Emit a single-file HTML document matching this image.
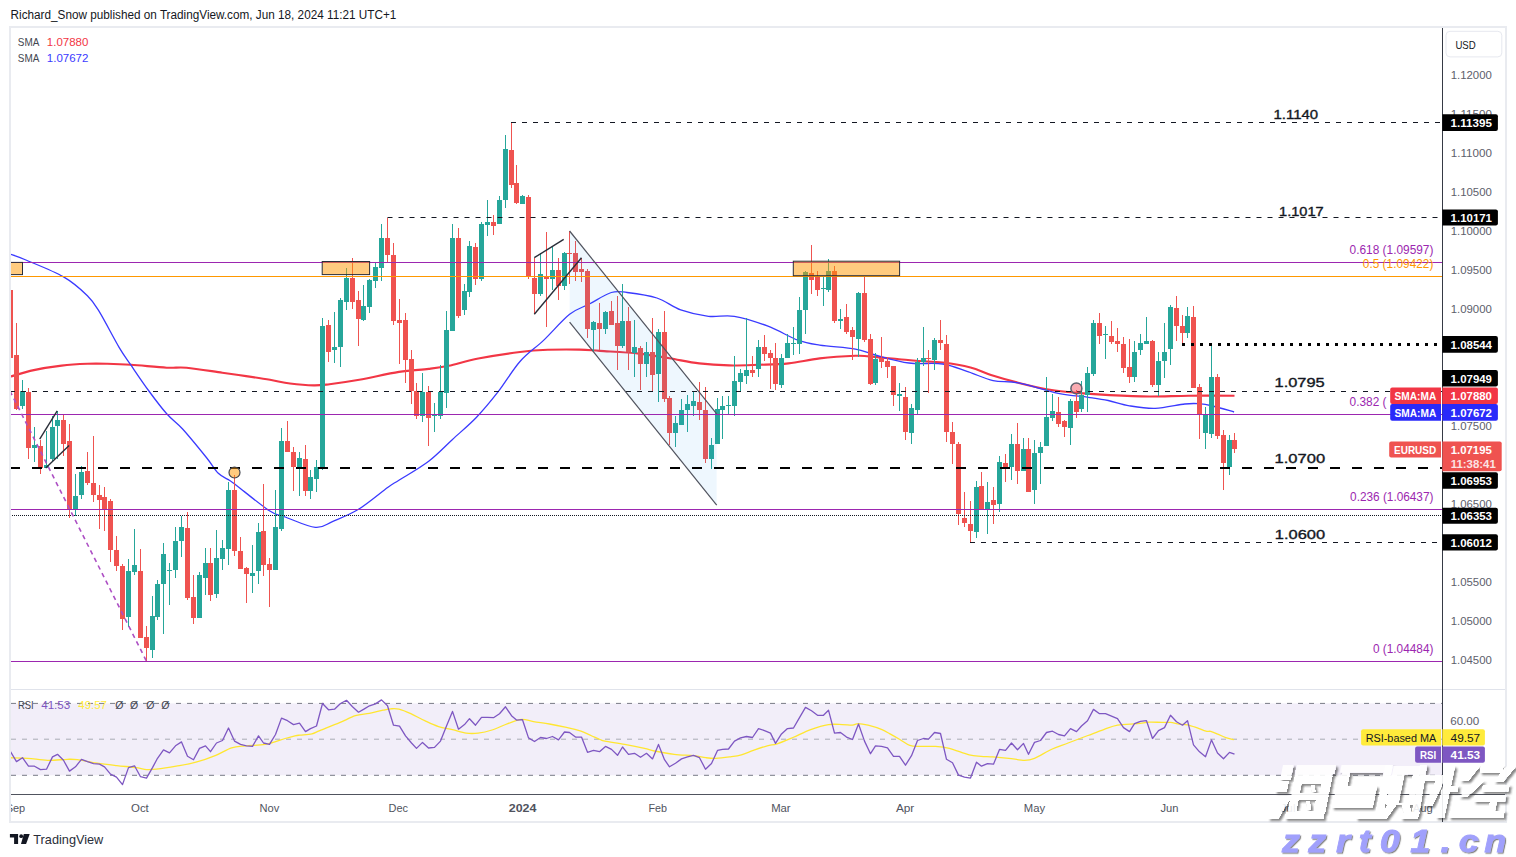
<!DOCTYPE html><html><head><meta charset="utf-8"><title>EURUSD chart</title>
<style>html,body{margin:0;padding:0;background:#fff;}body{width:1516px;height:857px;overflow:hidden;position:relative;font-family:"Liberation Sans", sans-serif;}svg{position:absolute;left:0;top:0;}text{font-family:"Liberation Sans", sans-serif;}</style></head><body>
<svg width="1516" height="857" viewBox="0 0 1516 857">
<defs><clipPath id="cm"><rect x="11" y="28" width="1431" height="661"/></clipPath>
<clipPath id="cr"><rect x="11" y="690" width="1431" height="104"/></clipPath></defs>
<text x="10.6" y="18.9" font-size="12" fill="#131722" textLength="385.7" lengthAdjust="spacingAndGlyphs">Richard_Snow published on TradingView.com, Jun 18, 2024 11:21 UTC+1</text>
<rect x="10" y="27" width="1496" height="795" fill="#fff" stroke="#e9ebf0" stroke-width="2"/>
<g clip-path="url(#cm)">
<path d="M10,376.7 C13.97,375.6 25.2,371.95 33.8,370.1 C42.4,368.25 52.67,366.65 61.6,365.6 C70.53,364.55 79.8,364.1 87.4,363.8 C95,363.5 99.93,363.63 107.2,363.8 C114.47,363.97 121.08,364.15 131,364.8 C140.92,365.45 157.43,367.22 166.7,367.7 C175.97,368.18 177.33,366.87 186.6,367.7 C195.87,368.53 212.38,371.3 222.3,372.7 C232.22,374.1 238.15,374.92 246.1,376.1 C254.05,377.28 262.68,378.57 270,379.8 C277.32,381.03 282.72,382.57 290,383.5 C297.28,384.43 307.12,385.28 313.7,385.4 C320.28,385.52 321.9,385.13 329.5,384.2 C337.1,383.27 347.72,381.85 359.3,379.8 C370.88,377.75 387.43,373.72 399,371.9 C410.57,370.08 420.43,369.92 428.7,368.9 C436.97,367.88 440.33,367.53 448.6,365.8 C456.87,364.07 466.4,360.8 478.3,358.5 C490.2,356.2 508.42,353.45 520,352 C531.58,350.55 537.88,350.2 547.8,349.8 C557.72,349.4 570.8,349.42 579.5,349.6 C588.2,349.78 590.08,350.23 600,350.9 C609.92,351.57 627.43,352.37 639,353.6 C650.57,354.83 659.37,356.67 669.4,358.3 C679.43,359.93 689.27,362.22 699.2,363.4 C709.13,364.58 719.08,365.17 729,365.4 C738.92,365.63 748.78,365.13 758.7,364.8 C768.62,364.47 778.33,364.47 788.5,363.4 C798.67,362.33 808.55,359.67 819.7,358.4 C830.85,357.13 847.13,356.13 855.4,355.8 C863.67,355.47 862.03,355.83 869.3,356.4 C876.57,356.97 890.73,358.43 899,359.2 C907.27,359.97 911.62,360.45 918.9,361 C926.18,361.55 934.1,361.42 942.7,362.5 C951.3,363.58 962.45,365.42 970.5,367.5 C978.55,369.58 982.93,372.43 991,375 C999.07,377.57 1009.07,380.43 1018.9,382.9 C1028.73,385.37 1039.85,388.1 1050,389.8 C1060.15,391.5 1069.88,392.22 1079.8,393.1 C1089.72,393.98 1097.93,394.53 1109.5,395.1 C1121.07,395.67 1135.97,396.4 1149.2,396.5 C1162.43,396.6 1174.68,395.83 1188.9,395.7 C1203.12,395.57 1226.9,395.7 1234.5,395.7" fill="none" stroke="#f23645" stroke-width="2.1" stroke-linejoin="round"/>
<path d="M10,254 C12.65,255 16.97,256.18 25.9,260 C34.83,263.82 53.35,270.95 63.6,276.9 C73.85,282.85 81.45,289.92 87.4,295.7 C93.35,301.48 94.02,303 99.3,311.6 C104.58,320.2 113.82,338.37 119.1,347.3 C124.38,356.23 126.03,357.92 131,365.2 C135.97,372.48 142.95,382.9 148.9,391 C154.85,399.1 161.08,407.47 166.7,413.8 C172.32,420.13 175.98,421.72 182.6,429 C189.22,436.28 200.45,450.12 206.4,457.5 C212.35,464.88 214.42,469.47 218.3,473.3 C222.18,477.13 226.72,478.52 229.7,480.5 C232.68,482.48 229.58,480.15 236.2,485.2 C242.82,490.25 261.23,505.5 269.4,510.8 C277.57,516.1 277.53,514.23 285.2,517 C292.87,519.77 307.45,526.68 315.4,527.4 C323.35,528.12 325.72,524.32 332.9,521.3 C340.08,518.28 349.32,514.98 358.5,509.3 C367.68,503.62 381.2,492.08 388,487.2 C394.8,482.32 392.52,484.33 399.3,480 C406.08,475.67 419.83,467.97 428.7,461.2 C437.57,454.43 444.57,446.68 452.5,439.4 C460.43,432.12 468.68,425.45 476.3,417.5 C483.92,409.55 490.92,401.03 498.2,391.7 C505.48,382.37 512.4,370.1 520,361.5 C527.6,352.9 535.53,347.97 543.8,340.1 C552.07,332.23 562,320.32 569.6,314.3 C577.2,308.28 582.45,307.63 589.4,304 C596.35,300.37 605.02,294.42 611.3,292.5 C617.58,290.58 619.5,291.58 627.1,292.5 C634.7,293.42 647.97,295.1 656.9,298 C665.83,300.9 672.1,306.85 680.7,309.9 C689.3,312.95 699.57,315.23 708.5,316.3 C717.43,317.37 724.38,314.65 734.3,316.3 C744.22,317.95 757.42,322.23 768,326.2 C778.58,330.17 789.18,336.95 797.8,340.1 C806.42,343.25 810.1,343.6 819.7,345.1 C829.3,346.6 846.15,347.45 855.4,349.1 C864.65,350.75 866.27,352.68 875.2,355 C884.13,357.32 897.75,361.5 909,363 C920.25,364.5 932.78,362.52 942.7,364 C952.62,365.48 960.1,369.13 968.5,371.9 C976.9,374.67 984.77,378.77 993.1,380.6 C1001.43,382.43 1007.65,380.78 1018.5,382.9 C1029.35,385.02 1046.57,390.9 1058.2,393.3 C1069.83,395.7 1079.97,396.1 1088.3,397.3 C1096.63,398.5 1101.35,399.08 1108.2,400.5 C1115.05,401.92 1121.57,404.48 1129.4,405.8 C1137.23,407.12 1145.95,408.7 1155.2,408.4 C1164.45,408.1 1177.63,404.78 1184.9,404 C1192.17,403.22 1194.17,403.37 1198.8,403.7 C1203.43,404.03 1206.82,404.62 1212.7,406 C1218.58,407.38 1230.53,411 1234.1,412" fill="none" stroke="#3a3aff" stroke-width="1.3" stroke-linejoin="round"/>
<g shape-rendering="crispEdges">
<rect x="10" y="278" width="1" height="82" fill="#ef5350"/>
<rect x="8" y="290" width="5" height="68" fill="#ef5350"/>
<rect x="16" y="323" width="1" height="87" fill="#ef5350"/>
<rect x="14" y="355" width="5" height="54" fill="#ef5350"/>
<rect x="22" y="380" width="1" height="29" fill="#26a69a"/>
<rect x="20" y="391" width="5" height="15" fill="#26a69a"/>
<rect x="28" y="388" width="1" height="71" fill="#ef5350"/>
<rect x="26" y="392" width="5" height="56" fill="#ef5350"/>
<rect x="34" y="427" width="1" height="35" fill="#26a69a"/>
<rect x="32" y="445" width="5" height="3" fill="#26a69a"/>
<rect x="40" y="440" width="1" height="34" fill="#ef5350"/>
<rect x="38" y="446" width="5" height="22" fill="#ef5350"/>
<rect x="46" y="431" width="1" height="37" fill="#26a69a"/>
<rect x="44" y="465" width="5" height="3" fill="#26a69a"/>
<rect x="52" y="416" width="1" height="46" fill="#26a69a"/>
<rect x="50" y="427" width="5" height="32" fill="#26a69a"/>
<rect x="57" y="411" width="1" height="48" fill="#26a69a"/>
<rect x="55" y="420" width="5" height="6" fill="#26a69a"/>
<rect x="63" y="415" width="1" height="41" fill="#ef5350"/>
<rect x="61" y="420" width="5" height="24" fill="#ef5350"/>
<rect x="69" y="424" width="1" height="94" fill="#ef5350"/>
<rect x="67" y="441" width="5" height="69" fill="#ef5350"/>
<rect x="75" y="474" width="1" height="42" fill="#26a69a"/>
<rect x="73" y="496" width="5" height="14" fill="#26a69a"/>
<rect x="81" y="466" width="1" height="33" fill="#26a69a"/>
<rect x="79" y="472" width="5" height="23" fill="#26a69a"/>
<rect x="87" y="452" width="1" height="33" fill="#ef5350"/>
<rect x="85" y="471" width="5" height="12" fill="#ef5350"/>
<rect x="93" y="436" width="1" height="66" fill="#ef5350"/>
<rect x="91" y="483" width="5" height="12" fill="#ef5350"/>
<rect x="99" y="485" width="1" height="44" fill="#ef5350"/>
<rect x="97" y="495" width="5" height="5" fill="#ef5350"/>
<rect x="104" y="487" width="1" height="44" fill="#ef5350"/>
<rect x="102" y="497" width="5" height="12" fill="#ef5350"/>
<rect x="110" y="499" width="1" height="63" fill="#ef5350"/>
<rect x="108" y="501" width="5" height="49" fill="#ef5350"/>
<rect x="116" y="536" width="1" height="35" fill="#ef5350"/>
<rect x="114" y="550" width="5" height="16" fill="#ef5350"/>
<rect x="122" y="564" width="1" height="66" fill="#ef5350"/>
<rect x="120" y="566" width="5" height="53" fill="#ef5350"/>
<rect x="128" y="559" width="1" height="68" fill="#26a69a"/>
<rect x="126" y="571" width="5" height="46" fill="#26a69a"/>
<rect x="134" y="529" width="1" height="46" fill="#26a69a"/>
<rect x="132" y="565" width="5" height="7" fill="#26a69a"/>
<rect x="140" y="549" width="1" height="89" fill="#ef5350"/>
<rect x="138" y="571" width="5" height="67" fill="#ef5350"/>
<rect x="146" y="626" width="1" height="35" fill="#ef5350"/>
<rect x="144" y="637" width="5" height="11" fill="#ef5350"/>
<rect x="152" y="596" width="1" height="62" fill="#26a69a"/>
<rect x="150" y="616" width="5" height="34" fill="#26a69a"/>
<rect x="157" y="580" width="1" height="40" fill="#26a69a"/>
<rect x="155" y="584" width="5" height="33" fill="#26a69a"/>
<rect x="163" y="543" width="1" height="91" fill="#26a69a"/>
<rect x="161" y="554" width="5" height="30" fill="#26a69a"/>
<rect x="169" y="563" width="1" height="42" fill="#26a69a"/>
<rect x="167" y="570" width="5" height="1" fill="#26a69a"/>
<rect x="175" y="527" width="1" height="51" fill="#26a69a"/>
<rect x="173" y="541" width="5" height="29" fill="#26a69a"/>
<rect x="181" y="516" width="1" height="41" fill="#26a69a"/>
<rect x="179" y="527" width="5" height="14" fill="#26a69a"/>
<rect x="187" y="512" width="1" height="88" fill="#ef5350"/>
<rect x="185" y="528" width="5" height="70" fill="#ef5350"/>
<rect x="193" y="575" width="1" height="49" fill="#ef5350"/>
<rect x="191" y="597" width="5" height="21" fill="#ef5350"/>
<rect x="199" y="572" width="1" height="46" fill="#26a69a"/>
<rect x="197" y="575" width="5" height="43" fill="#26a69a"/>
<rect x="205" y="548" width="1" height="47" fill="#26a69a"/>
<rect x="203" y="563" width="5" height="15" fill="#26a69a"/>
<rect x="210" y="548" width="1" height="53" fill="#ef5350"/>
<rect x="208" y="563" width="5" height="32" fill="#ef5350"/>
<rect x="216" y="530" width="1" height="68" fill="#26a69a"/>
<rect x="214" y="558" width="5" height="36" fill="#26a69a"/>
<rect x="222" y="540" width="1" height="30" fill="#26a69a"/>
<rect x="220" y="548" width="5" height="11" fill="#26a69a"/>
<rect x="228" y="482" width="1" height="83" fill="#26a69a"/>
<rect x="226" y="490" width="5" height="59" fill="#26a69a"/>
<rect x="234" y="475" width="1" height="81" fill="#ef5350"/>
<rect x="232" y="490" width="5" height="61" fill="#ef5350"/>
<rect x="240" y="537" width="1" height="32" fill="#ef5350"/>
<rect x="238" y="551" width="5" height="18" fill="#ef5350"/>
<rect x="246" y="567" width="1" height="36" fill="#ef5350"/>
<rect x="244" y="568" width="5" height="6" fill="#ef5350"/>
<rect x="252" y="545" width="1" height="48" fill="#26a69a"/>
<rect x="250" y="573" width="5" height="3" fill="#26a69a"/>
<rect x="258" y="523" width="1" height="61" fill="#26a69a"/>
<rect x="256" y="532" width="5" height="39" fill="#26a69a"/>
<rect x="263" y="484" width="1" height="92" fill="#ef5350"/>
<rect x="261" y="531" width="5" height="34" fill="#ef5350"/>
<rect x="269" y="558" width="1" height="49" fill="#ef5350"/>
<rect x="267" y="564" width="5" height="6" fill="#ef5350"/>
<rect x="275" y="490" width="1" height="80" fill="#26a69a"/>
<rect x="273" y="527" width="5" height="43" fill="#26a69a"/>
<rect x="281" y="428" width="1" height="103" fill="#26a69a"/>
<rect x="279" y="441" width="5" height="88" fill="#26a69a"/>
<rect x="287" y="421" width="1" height="31" fill="#ef5350"/>
<rect x="285" y="441" width="5" height="11" fill="#ef5350"/>
<rect x="293" y="447" width="1" height="44" fill="#ef5350"/>
<rect x="291" y="452" width="5" height="15" fill="#ef5350"/>
<rect x="299" y="452" width="1" height="44" fill="#26a69a"/>
<rect x="297" y="458" width="5" height="10" fill="#26a69a"/>
<rect x="305" y="445" width="1" height="51" fill="#ef5350"/>
<rect x="303" y="459" width="5" height="32" fill="#ef5350"/>
<rect x="310" y="470" width="1" height="29" fill="#26a69a"/>
<rect x="308" y="477" width="5" height="14" fill="#26a69a"/>
<rect x="316" y="460" width="1" height="32" fill="#26a69a"/>
<rect x="314" y="467" width="5" height="12" fill="#26a69a"/>
<rect x="322" y="318" width="1" height="152" fill="#26a69a"/>
<rect x="320" y="326" width="5" height="142" fill="#26a69a"/>
<rect x="328" y="320" width="1" height="42" fill="#ef5350"/>
<rect x="326" y="325" width="5" height="27" fill="#ef5350"/>
<rect x="334" y="312" width="1" height="51" fill="#26a69a"/>
<rect x="332" y="347" width="5" height="3" fill="#26a69a"/>
<rect x="340" y="298" width="1" height="69" fill="#26a69a"/>
<rect x="338" y="300" width="5" height="47" fill="#26a69a"/>
<rect x="346" y="268" width="1" height="42" fill="#26a69a"/>
<rect x="344" y="278" width="5" height="24" fill="#26a69a"/>
<rect x="352" y="258" width="1" height="51" fill="#ef5350"/>
<rect x="350" y="278" width="5" height="24" fill="#ef5350"/>
<rect x="358" y="291" width="1" height="55" fill="#ef5350"/>
<rect x="356" y="300" width="5" height="19" fill="#ef5350"/>
<rect x="363" y="285" width="1" height="36" fill="#26a69a"/>
<rect x="361" y="306" width="5" height="14" fill="#26a69a"/>
<rect x="369" y="279" width="1" height="34" fill="#26a69a"/>
<rect x="367" y="280" width="5" height="27" fill="#26a69a"/>
<rect x="375" y="262" width="1" height="26" fill="#26a69a"/>
<rect x="373" y="267" width="5" height="14" fill="#26a69a"/>
<rect x="381" y="224" width="1" height="57" fill="#26a69a"/>
<rect x="379" y="238" width="5" height="30" fill="#26a69a"/>
<rect x="387" y="218" width="1" height="44" fill="#ef5350"/>
<rect x="385" y="238" width="5" height="17" fill="#ef5350"/>
<rect x="393" y="243" width="1" height="82" fill="#ef5350"/>
<rect x="391" y="255" width="5" height="66" fill="#ef5350"/>
<rect x="399" y="299" width="1" height="65" fill="#ef5350"/>
<rect x="397" y="320" width="5" height="3" fill="#ef5350"/>
<rect x="405" y="313" width="1" height="70" fill="#ef5350"/>
<rect x="403" y="320" width="5" height="40" fill="#ef5350"/>
<rect x="411" y="350" width="1" height="54" fill="#ef5350"/>
<rect x="409" y="359" width="5" height="32" fill="#ef5350"/>
<rect x="416" y="383" width="1" height="36" fill="#ef5350"/>
<rect x="414" y="391" width="5" height="25" fill="#ef5350"/>
<rect x="422" y="373" width="1" height="49" fill="#26a69a"/>
<rect x="420" y="392" width="5" height="24" fill="#26a69a"/>
<rect x="428" y="386" width="1" height="60" fill="#ef5350"/>
<rect x="426" y="392" width="5" height="26" fill="#ef5350"/>
<rect x="434" y="403" width="1" height="29" fill="#26a69a"/>
<rect x="432" y="415" width="5" height="1" fill="#26a69a"/>
<rect x="440" y="365" width="1" height="54" fill="#26a69a"/>
<rect x="438" y="392" width="5" height="24" fill="#26a69a"/>
<rect x="446" y="311" width="1" height="97" fill="#26a69a"/>
<rect x="444" y="330" width="5" height="63" fill="#26a69a"/>
<rect x="452" y="224" width="1" height="107" fill="#26a69a"/>
<rect x="450" y="238" width="5" height="93" fill="#26a69a"/>
<rect x="458" y="228" width="1" height="90" fill="#ef5350"/>
<rect x="456" y="238" width="5" height="78" fill="#ef5350"/>
<rect x="464" y="284" width="1" height="31" fill="#26a69a"/>
<rect x="462" y="291" width="5" height="19" fill="#26a69a"/>
<rect x="469" y="241" width="1" height="56" fill="#26a69a"/>
<rect x="467" y="246" width="5" height="46" fill="#26a69a"/>
<rect x="475" y="243" width="1" height="42" fill="#ef5350"/>
<rect x="473" y="247" width="5" height="32" fill="#ef5350"/>
<rect x="481" y="222" width="1" height="59" fill="#26a69a"/>
<rect x="479" y="224" width="5" height="55" fill="#26a69a"/>
<rect x="487" y="200" width="1" height="36" fill="#26a69a"/>
<rect x="485" y="222" width="5" height="3" fill="#26a69a"/>
<rect x="493" y="215" width="1" height="20" fill="#ef5350"/>
<rect x="491" y="222" width="5" height="4" fill="#ef5350"/>
<rect x="499" y="196" width="1" height="28" fill="#26a69a"/>
<rect x="497" y="200" width="5" height="24" fill="#26a69a"/>
<rect x="505" y="135" width="1" height="73" fill="#26a69a"/>
<rect x="503" y="149" width="5" height="51" fill="#26a69a"/>
<rect x="511" y="122" width="1" height="66" fill="#ef5350"/>
<rect x="509" y="150" width="5" height="35" fill="#ef5350"/>
<rect x="516" y="165" width="1" height="39" fill="#ef5350"/>
<rect x="514" y="183" width="5" height="20" fill="#ef5350"/>
<rect x="522" y="195" width="1" height="9" fill="#26a69a"/>
<rect x="520" y="196" width="5" height="8" fill="#26a69a"/>
<rect x="528" y="195" width="1" height="84" fill="#ef5350"/>
<rect x="526" y="197" width="5" height="80" fill="#ef5350"/>
<rect x="534" y="258" width="1" height="56" fill="#ef5350"/>
<rect x="532" y="278" width="5" height="16" fill="#ef5350"/>
<rect x="540" y="253" width="1" height="43" fill="#26a69a"/>
<rect x="538" y="274" width="5" height="20" fill="#26a69a"/>
<rect x="546" y="232" width="1" height="95" fill="#ef5350"/>
<rect x="544" y="276" width="5" height="3" fill="#ef5350"/>
<rect x="552" y="247" width="1" height="43" fill="#26a69a"/>
<rect x="550" y="270" width="5" height="9" fill="#26a69a"/>
<rect x="558" y="258" width="1" height="42" fill="#ef5350"/>
<rect x="556" y="270" width="5" height="16" fill="#ef5350"/>
<rect x="564" y="252" width="1" height="38" fill="#26a69a"/>
<rect x="562" y="253" width="5" height="33" fill="#26a69a"/>
<rect x="569" y="231" width="1" height="53" fill="#ef5350"/>
<rect x="567" y="253" width="5" height="1" fill="#ef5350"/>
<rect x="575" y="241" width="1" height="40" fill="#ef5350"/>
<rect x="573" y="253" width="5" height="19" fill="#ef5350"/>
<rect x="581" y="258" width="1" height="24" fill="#ef5350"/>
<rect x="579" y="269" width="5" height="3" fill="#ef5350"/>
<rect x="587" y="269" width="1" height="69" fill="#ef5350"/>
<rect x="585" y="271" width="5" height="58" fill="#ef5350"/>
<rect x="593" y="321" width="1" height="30" fill="#26a69a"/>
<rect x="591" y="322" width="5" height="8" fill="#26a69a"/>
<rect x="599" y="303" width="1" height="47" fill="#ef5350"/>
<rect x="597" y="323" width="5" height="6" fill="#ef5350"/>
<rect x="605" y="311" width="1" height="23" fill="#26a69a"/>
<rect x="603" y="312" width="5" height="17" fill="#26a69a"/>
<rect x="611" y="301" width="1" height="24" fill="#ef5350"/>
<rect x="609" y="311" width="5" height="14" fill="#ef5350"/>
<rect x="617" y="296" width="1" height="74" fill="#ef5350"/>
<rect x="615" y="323" width="5" height="23" fill="#ef5350"/>
<rect x="622" y="284" width="1" height="64" fill="#26a69a"/>
<rect x="620" y="321" width="5" height="25" fill="#26a69a"/>
<rect x="628" y="307" width="1" height="63" fill="#ef5350"/>
<rect x="626" y="321" width="5" height="31" fill="#ef5350"/>
<rect x="634" y="320" width="1" height="57" fill="#26a69a"/>
<rect x="632" y="347" width="5" height="6" fill="#26a69a"/>
<rect x="640" y="346" width="1" height="44" fill="#ef5350"/>
<rect x="638" y="348" width="5" height="16" fill="#ef5350"/>
<rect x="646" y="342" width="1" height="35" fill="#26a69a"/>
<rect x="644" y="352" width="5" height="12" fill="#26a69a"/>
<rect x="652" y="318" width="1" height="73" fill="#ef5350"/>
<rect x="650" y="352" width="5" height="23" fill="#ef5350"/>
<rect x="658" y="329" width="1" height="73" fill="#26a69a"/>
<rect x="656" y="332" width="5" height="42" fill="#26a69a"/>
<rect x="664" y="311" width="1" height="91" fill="#ef5350"/>
<rect x="662" y="332" width="5" height="67" fill="#ef5350"/>
<rect x="669" y="396" width="1" height="49" fill="#ef5350"/>
<rect x="667" y="398" width="5" height="35" fill="#ef5350"/>
<rect x="675" y="416" width="1" height="31" fill="#26a69a"/>
<rect x="673" y="423" width="5" height="10" fill="#26a69a"/>
<rect x="681" y="399" width="1" height="26" fill="#26a69a"/>
<rect x="679" y="410" width="5" height="15" fill="#26a69a"/>
<rect x="687" y="395" width="1" height="37" fill="#26a69a"/>
<rect x="685" y="404" width="5" height="6" fill="#26a69a"/>
<rect x="693" y="391" width="1" height="25" fill="#26a69a"/>
<rect x="691" y="401" width="5" height="5" fill="#26a69a"/>
<rect x="699" y="382" width="1" height="38" fill="#ef5350"/>
<rect x="697" y="402" width="5" height="8" fill="#ef5350"/>
<rect x="705" y="387" width="1" height="76" fill="#ef5350"/>
<rect x="703" y="410" width="5" height="49" fill="#ef5350"/>
<rect x="711" y="438" width="1" height="31" fill="#26a69a"/>
<rect x="709" y="445" width="5" height="14" fill="#26a69a"/>
<rect x="717" y="398" width="1" height="46" fill="#26a69a"/>
<rect x="715" y="409" width="5" height="35" fill="#26a69a"/>
<rect x="722" y="396" width="1" height="43" fill="#26a69a"/>
<rect x="720" y="406" width="5" height="4" fill="#26a69a"/>
<rect x="728" y="396" width="1" height="19" fill="#26a69a"/>
<rect x="726" y="405" width="5" height="1" fill="#26a69a"/>
<rect x="734" y="356" width="1" height="60" fill="#26a69a"/>
<rect x="732" y="381" width="5" height="25" fill="#26a69a"/>
<rect x="740" y="369" width="1" height="22" fill="#26a69a"/>
<rect x="738" y="373" width="5" height="9" fill="#26a69a"/>
<rect x="746" y="318" width="1" height="66" fill="#26a69a"/>
<rect x="744" y="370" width="5" height="6" fill="#26a69a"/>
<rect x="752" y="356" width="1" height="21" fill="#ef5350"/>
<rect x="750" y="370" width="5" height="3" fill="#ef5350"/>
<rect x="758" y="340" width="1" height="37" fill="#26a69a"/>
<rect x="756" y="347" width="5" height="22" fill="#26a69a"/>
<rect x="764" y="335" width="1" height="26" fill="#ef5350"/>
<rect x="762" y="347" width="5" height="7" fill="#ef5350"/>
<rect x="770" y="350" width="1" height="39" fill="#ef5350"/>
<rect x="768" y="353" width="5" height="5" fill="#ef5350"/>
<rect x="775" y="343" width="1" height="47" fill="#ef5350"/>
<rect x="773" y="358" width="5" height="26" fill="#ef5350"/>
<rect x="781" y="354" width="1" height="34" fill="#26a69a"/>
<rect x="779" y="358" width="5" height="27" fill="#26a69a"/>
<rect x="787" y="334" width="1" height="24" fill="#26a69a"/>
<rect x="785" y="343" width="5" height="15" fill="#26a69a"/>
<rect x="793" y="327" width="1" height="28" fill="#26a69a"/>
<rect x="791" y="343" width="5" height="1" fill="#26a69a"/>
<rect x="799" y="297" width="1" height="57" fill="#26a69a"/>
<rect x="797" y="310" width="5" height="34" fill="#26a69a"/>
<rect x="805" y="271" width="1" height="63" fill="#26a69a"/>
<rect x="803" y="272" width="5" height="38" fill="#26a69a"/>
<rect x="811" y="245" width="1" height="49" fill="#ef5350"/>
<rect x="809" y="273" width="5" height="7" fill="#ef5350"/>
<rect x="817" y="271" width="1" height="25" fill="#ef5350"/>
<rect x="815" y="276" width="5" height="14" fill="#ef5350"/>
<rect x="823" y="277" width="1" height="29" fill="#26a69a"/>
<rect x="821" y="288" width="5" height="1" fill="#26a69a"/>
<rect x="828" y="259" width="1" height="33" fill="#26a69a"/>
<rect x="826" y="271" width="5" height="19" fill="#26a69a"/>
<rect x="834" y="266" width="1" height="57" fill="#ef5350"/>
<rect x="832" y="271" width="5" height="50" fill="#ef5350"/>
<rect x="840" y="309" width="1" height="20" fill="#26a69a"/>
<rect x="838" y="319" width="5" height="2" fill="#26a69a"/>
<rect x="846" y="304" width="1" height="30" fill="#ef5350"/>
<rect x="844" y="317" width="5" height="15" fill="#ef5350"/>
<rect x="852" y="327" width="1" height="33" fill="#ef5350"/>
<rect x="850" y="330" width="5" height="7" fill="#ef5350"/>
<rect x="858" y="292" width="1" height="65" fill="#26a69a"/>
<rect x="856" y="293" width="5" height="46" fill="#26a69a"/>
<rect x="864" y="277" width="1" height="65" fill="#ef5350"/>
<rect x="862" y="293" width="5" height="47" fill="#ef5350"/>
<rect x="870" y="334" width="1" height="51" fill="#ef5350"/>
<rect x="868" y="339" width="5" height="45" fill="#ef5350"/>
<rect x="875" y="353" width="1" height="32" fill="#26a69a"/>
<rect x="873" y="359" width="5" height="24" fill="#26a69a"/>
<rect x="881" y="337" width="1" height="31" fill="#ef5350"/>
<rect x="879" y="358" width="5" height="4" fill="#ef5350"/>
<rect x="887" y="357" width="1" height="21" fill="#ef5350"/>
<rect x="885" y="361" width="5" height="6" fill="#ef5350"/>
<rect x="893" y="366" width="1" height="40" fill="#ef5350"/>
<rect x="891" y="366" width="5" height="29" fill="#ef5350"/>
<rect x="899" y="383" width="1" height="28" fill="#26a69a"/>
<rect x="897" y="394" width="5" height="2" fill="#26a69a"/>
<rect x="905" y="387" width="1" height="53" fill="#ef5350"/>
<rect x="903" y="397" width="5" height="35" fill="#ef5350"/>
<rect x="911" y="404" width="1" height="40" fill="#26a69a"/>
<rect x="909" y="408" width="5" height="25" fill="#26a69a"/>
<rect x="917" y="358" width="1" height="56" fill="#26a69a"/>
<rect x="915" y="362" width="5" height="48" fill="#26a69a"/>
<rect x="923" y="327" width="1" height="39" fill="#26a69a"/>
<rect x="921" y="358" width="5" height="4" fill="#26a69a"/>
<rect x="928" y="350" width="1" height="43" fill="#ef5350"/>
<rect x="926" y="358" width="5" height="1" fill="#ef5350"/>
<rect x="934" y="338" width="1" height="32" fill="#26a69a"/>
<rect x="932" y="340" width="5" height="20" fill="#26a69a"/>
<rect x="940" y="320" width="1" height="30" fill="#ef5350"/>
<rect x="938" y="340" width="5" height="3" fill="#ef5350"/>
<rect x="946" y="335" width="1" height="107" fill="#ef5350"/>
<rect x="944" y="344" width="5" height="88" fill="#ef5350"/>
<rect x="952" y="422" width="1" height="42" fill="#ef5350"/>
<rect x="950" y="432" width="5" height="12" fill="#ef5350"/>
<rect x="958" y="442" width="1" height="83" fill="#ef5350"/>
<rect x="956" y="444" width="5" height="70" fill="#ef5350"/>
<rect x="964" y="492" width="1" height="35" fill="#ef5350"/>
<rect x="962" y="518" width="5" height="5" fill="#ef5350"/>
<rect x="970" y="501" width="1" height="41" fill="#ef5350"/>
<rect x="968" y="524" width="5" height="7" fill="#ef5350"/>
<rect x="976" y="481" width="1" height="57" fill="#26a69a"/>
<rect x="974" y="487" width="5" height="45" fill="#26a69a"/>
<rect x="981" y="472" width="1" height="38" fill="#ef5350"/>
<rect x="979" y="486" width="5" height="24" fill="#ef5350"/>
<rect x="987" y="482" width="1" height="52" fill="#26a69a"/>
<rect x="985" y="502" width="5" height="7" fill="#26a69a"/>
<rect x="993" y="487" width="1" height="37" fill="#ef5350"/>
<rect x="991" y="500" width="5" height="5" fill="#ef5350"/>
<rect x="999" y="456" width="1" height="56" fill="#26a69a"/>
<rect x="997" y="462" width="5" height="42" fill="#26a69a"/>
<rect x="1005" y="454" width="1" height="28" fill="#ef5350"/>
<rect x="1003" y="463" width="5" height="4" fill="#ef5350"/>
<rect x="1011" y="434" width="1" height="46" fill="#26a69a"/>
<rect x="1009" y="444" width="5" height="23" fill="#26a69a"/>
<rect x="1017" y="423" width="1" height="61" fill="#ef5350"/>
<rect x="1015" y="444" width="5" height="27" fill="#ef5350"/>
<rect x="1023" y="438" width="1" height="33" fill="#26a69a"/>
<rect x="1021" y="449" width="5" height="22" fill="#26a69a"/>
<rect x="1028" y="438" width="1" height="54" fill="#ef5350"/>
<rect x="1026" y="449" width="5" height="43" fill="#ef5350"/>
<rect x="1034" y="440" width="1" height="64" fill="#26a69a"/>
<rect x="1032" y="453" width="5" height="37" fill="#26a69a"/>
<rect x="1040" y="442" width="1" height="42" fill="#26a69a"/>
<rect x="1038" y="447" width="5" height="6" fill="#26a69a"/>
<rect x="1046" y="377" width="1" height="69" fill="#26a69a"/>
<rect x="1044" y="417" width="5" height="29" fill="#26a69a"/>
<rect x="1052" y="394" width="1" height="27" fill="#26a69a"/>
<rect x="1050" y="411" width="5" height="7" fill="#26a69a"/>
<rect x="1058" y="397" width="1" height="30" fill="#ef5350"/>
<rect x="1056" y="412" width="5" height="12" fill="#ef5350"/>
<rect x="1064" y="420" width="1" height="17" fill="#ef5350"/>
<rect x="1062" y="421" width="5" height="6" fill="#ef5350"/>
<rect x="1070" y="399" width="1" height="46" fill="#26a69a"/>
<rect x="1068" y="401" width="5" height="27" fill="#26a69a"/>
<rect x="1076" y="390" width="1" height="28" fill="#ef5350"/>
<rect x="1074" y="401" width="5" height="11" fill="#ef5350"/>
<rect x="1081" y="381" width="1" height="31" fill="#26a69a"/>
<rect x="1079" y="395" width="5" height="14" fill="#26a69a"/>
<rect x="1087" y="367" width="1" height="45" fill="#26a69a"/>
<rect x="1085" y="373" width="5" height="22" fill="#26a69a"/>
<rect x="1093" y="320" width="1" height="56" fill="#26a69a"/>
<rect x="1091" y="323" width="5" height="51" fill="#26a69a"/>
<rect x="1099" y="313" width="1" height="31" fill="#ef5350"/>
<rect x="1097" y="323" width="5" height="13" fill="#ef5350"/>
<rect x="1105" y="326" width="1" height="33" fill="#26a69a"/>
<rect x="1103" y="334" width="5" height="1" fill="#26a69a"/>
<rect x="1111" y="321" width="1" height="23" fill="#ef5350"/>
<rect x="1109" y="336" width="5" height="6" fill="#ef5350"/>
<rect x="1117" y="328" width="1" height="24" fill="#ef5350"/>
<rect x="1115" y="341" width="5" height="3" fill="#ef5350"/>
<rect x="1123" y="337" width="1" height="36" fill="#ef5350"/>
<rect x="1121" y="344" width="5" height="24" fill="#ef5350"/>
<rect x="1129" y="339" width="1" height="44" fill="#ef5350"/>
<rect x="1127" y="367" width="5" height="10" fill="#ef5350"/>
<rect x="1134" y="341" width="1" height="41" fill="#26a69a"/>
<rect x="1132" y="352" width="5" height="25" fill="#26a69a"/>
<rect x="1140" y="334" width="1" height="21" fill="#26a69a"/>
<rect x="1138" y="343" width="5" height="7" fill="#26a69a"/>
<rect x="1146" y="317" width="1" height="27" fill="#26a69a"/>
<rect x="1144" y="341" width="5" height="3" fill="#26a69a"/>
<rect x="1152" y="340" width="1" height="47" fill="#ef5350"/>
<rect x="1150" y="341" width="5" height="44" fill="#ef5350"/>
<rect x="1158" y="352" width="1" height="44" fill="#26a69a"/>
<rect x="1156" y="361" width="5" height="24" fill="#26a69a"/>
<rect x="1164" y="323" width="1" height="55" fill="#26a69a"/>
<rect x="1162" y="352" width="5" height="9" fill="#26a69a"/>
<rect x="1170" y="305" width="1" height="60" fill="#26a69a"/>
<rect x="1168" y="307" width="5" height="42" fill="#26a69a"/>
<rect x="1176" y="296" width="1" height="45" fill="#ef5350"/>
<rect x="1174" y="308" width="5" height="18" fill="#ef5350"/>
<rect x="1182" y="315" width="1" height="29" fill="#ef5350"/>
<rect x="1180" y="326" width="5" height="7" fill="#ef5350"/>
<rect x="1187" y="307" width="1" height="31" fill="#26a69a"/>
<rect x="1185" y="316" width="5" height="17" fill="#26a69a"/>
<rect x="1193" y="306" width="1" height="82" fill="#ef5350"/>
<rect x="1191" y="317" width="5" height="71" fill="#ef5350"/>
<rect x="1199" y="384" width="1" height="55" fill="#ef5350"/>
<rect x="1197" y="387" width="5" height="27" fill="#ef5350"/>
<rect x="1205" y="407" width="1" height="42" fill="#26a69a"/>
<rect x="1203" y="414" width="5" height="19" fill="#26a69a"/>
<rect x="1211" y="346" width="1" height="92" fill="#26a69a"/>
<rect x="1209" y="377" width="5" height="57" fill="#26a69a"/>
<rect x="1217" y="374" width="1" height="65" fill="#ef5350"/>
<rect x="1215" y="377" width="5" height="59" fill="#ef5350"/>
<rect x="1223" y="430" width="1" height="60" fill="#ef5350"/>
<rect x="1221" y="435" width="5" height="28" fill="#ef5350"/>
<rect x="1229" y="435" width="1" height="40" fill="#26a69a"/>
<rect x="1227" y="440" width="5" height="27" fill="#26a69a"/>
<rect x="1234" y="433" width="1" height="20" fill="#ef5350"/>
<rect x="1232" y="440" width="5" height="9" fill="#ef5350"/>
</g>
<polygon points="569.6,231 716.7,413.8 716.7,505.1 569.6,322.2" fill="#2196f3" fill-opacity="0.08"/>
<line x1="11" y1="262.5" x2="1442" y2="262.5" stroke="#9c27b0" stroke-width="1"/>
<line x1="11" y1="276.5" x2="1442" y2="276.5" stroke="#ff9800" stroke-width="1"/>
<line x1="11" y1="414.5" x2="1442" y2="414.5" stroke="#9c27b0" stroke-width="1"/>
<line x1="11" y1="509.5" x2="1442" y2="509.5" stroke="#9c27b0" stroke-width="1"/>
<line x1="11" y1="661.5" x2="1442" y2="661.5" stroke="#9c27b0" stroke-width="1"/>
<rect x="5" y="262.4" width="17.5" height="12.2" fill="#ff9800" fill-opacity="0.5" stroke="#2a2e39" stroke-width="1"/>
<rect x="322.2" y="261.5" width="47.4" height="13.1" fill="#ff9800" fill-opacity="0.5" stroke="#2a2e39" stroke-width="1"/>
<rect x="793.3" y="261.2" width="106.3" height="14.5" fill="#ff9800" fill-opacity="0.5" stroke="#2a2e39" stroke-width="1"/>
<line x1="511" y1="122.5" x2="1442" y2="122.5" stroke="#131722" stroke-width="1" stroke-dasharray="5 6"/>
<line x1="387.5" y1="217.5" x2="1442" y2="217.5" stroke="#131722" stroke-width="1" stroke-dasharray="5 6"/>
<line x1="1182" y1="344.5" x2="1442" y2="344.5" stroke="#000" stroke-width="3" stroke-dasharray="3 6"/>
<line x1="10" y1="391.5" x2="1442" y2="391.5" stroke="#131722" stroke-width="1" stroke-dasharray="5 6"/>
<line x1="10" y1="468" x2="1442" y2="468" stroke="#000" stroke-width="2" stroke-dasharray="10 12"/>
<line x1="10" y1="515.5" x2="1442" y2="515.5" stroke="#131722" stroke-width="1" stroke-dasharray="1 1"/>
<line x1="970" y1="542.5" x2="1442" y2="542.5" stroke="#131722" stroke-width="1" stroke-dasharray="5 6"/>
<line x1="10" y1="391" x2="146.6" y2="661.4" stroke="#ad4fc4" stroke-width="1.6" stroke-dasharray="4.5 4"/>
<line x1="569.6" y1="231" x2="716.7" y2="413.8" stroke="#50535e" stroke-width="1.2"/>
<line x1="569.6" y1="322.2" x2="716.7" y2="505.1" stroke="#50535e" stroke-width="1.2"/>
<line x1="39.7" y1="439.2" x2="57.2" y2="410.8" stroke="#2a2e39" stroke-width="1.4"/>
<line x1="45.7" y1="468" x2="69.1" y2="445.6" stroke="#2a2e39" stroke-width="1.4"/>
<line x1="534.3" y1="257.7" x2="563.7" y2="239.3" stroke="#2a2e39" stroke-width="1.4"/>
<line x1="534.3" y1="314.3" x2="581.5" y2="257.7" stroke="#2a2e39" stroke-width="1.4"/>
<circle cx="234.5" cy="472.5" r="5.5" fill="#ff9800" fill-opacity="0.5" stroke="#434651" stroke-width="1.2"/>
<circle cx="1076.4" cy="388.4" r="5.5" fill="#f23645" fill-opacity="0.42" stroke="#5d606b" stroke-width="1.5"/>
<text x="1273.5" y="119.2" font-size="12.8" fill="#131722" textLength="44.7" lengthAdjust="spacingAndGlyphs" stroke="#131722" stroke-width="0.35">1.1140</text>
<text x="1279" y="216" font-size="12.8" fill="#131722" textLength="44.7" lengthAdjust="spacingAndGlyphs" stroke="#131722" stroke-width="0.35">1.1017</text>
<text x="1274.5" y="386.5" font-size="12.8" fill="#131722" textLength="50.2" lengthAdjust="spacingAndGlyphs" stroke="#131722" stroke-width="0.35">1.0795</text>
<text x="1274.5" y="463.3" font-size="12.8" fill="#131722" textLength="50.6" lengthAdjust="spacingAndGlyphs" stroke="#131722" stroke-width="0.35">1.0700</text>
<text x="1274.8" y="538.8" font-size="12.8" fill="#131722" textLength="50.3" lengthAdjust="spacingAndGlyphs" stroke="#131722" stroke-width="0.35">1.0600</text>
<text x="1349.6" y="254" font-size="12" fill="#9c27b0" textLength="83.8" lengthAdjust="spacingAndGlyphs">0.618 (1.09597)</text>
<text x="1362.8" y="268" font-size="12" fill="#ff9800" textLength="70.6" lengthAdjust="spacingAndGlyphs">0.5 (1.09422)</text>
<text x="1350.1" y="501.1" font-size="12" fill="#9c27b0" textLength="83.3" lengthAdjust="spacingAndGlyphs">0.236 (1.06437)</text>
<text x="1373" y="652.9" font-size="12" fill="#9c27b0" textLength="60.4" lengthAdjust="spacingAndGlyphs">0 (1.04484)</text>
<text x="1349.6" y="406.4" font-size="12" fill="#9c27b0" textLength="36.9" lengthAdjust="spacingAndGlyphs">0.382 (</text>
</g>
<text x="17.8" y="45.5" font-size="11" fill="#434651" textLength="21.5" lengthAdjust="spacingAndGlyphs">SMA</text>
<text x="46.8" y="45.5" font-size="11.4" fill="#f23645" textLength="41.6" lengthAdjust="spacingAndGlyphs">1.07880</text>
<text x="17.8" y="62" font-size="11" fill="#434651" textLength="21.5" lengthAdjust="spacingAndGlyphs">SMA</text>
<text x="46.8" y="62" font-size="11.4" fill="#3a3aff" textLength="41.6" lengthAdjust="spacingAndGlyphs">1.07672</text>
<line x1="11" y1="689.5" x2="1505" y2="689.5" stroke="#e0e3eb" stroke-width="1"/>
<g clip-path="url(#cr)">
<rect x="11" y="703.4" width="1431" height="71.9" fill="#f2eef9"/>
<line x1="11" y1="703.4" x2="1442" y2="703.4" stroke="#787b86" stroke-width="1" stroke-dasharray="5 6"/>
<line x1="11" y1="739.2" x2="1442" y2="739.2" stroke="#a8abb4" stroke-width="1" stroke-dasharray="5 6"/>
<line x1="11" y1="775.3" x2="1442" y2="775.3" stroke="#787b86" stroke-width="1" stroke-dasharray="5 6"/>
<path d="M10,757.7 C12.97,757.8 21.53,757.87 27.8,758.3 C34.07,758.73 41,760.13 47.6,760.3 C54.2,760.47 62.45,759.4 67.4,759.3 C72.35,759.2 72.35,759.05 77.3,759.7 C82.25,760.35 90.52,762.22 97.1,763.2 C103.68,764.18 110.22,764.87 116.8,765.6 C123.38,766.33 131.65,766.93 136.6,767.6 C141.55,768.27 143.2,769.33 146.5,769.6 C149.8,769.87 151.45,769.77 156.4,769.2 C161.35,768.63 169.6,767.37 176.2,766.2 C182.8,765.03 189.4,764.02 196,762.2 C202.6,760.38 209.87,757.7 215.8,755.3 C221.73,752.9 226.65,749.38 231.6,747.8 C236.55,746.22 239.88,746.37 245.5,745.8 C251.12,745.23 258.7,745.62 265.3,744.4 C271.9,743.18 280.15,739.92 285.1,738.5 C290.05,737.08 292.52,736.47 295,735.9 C297.48,735.33 297.18,735.43 300,735.1 C302.82,734.77 308.6,734.65 311.9,733.9 C315.2,733.15 315.18,732.47 319.8,730.6 C324.42,728.73 333.67,725.18 339.6,722.7 C345.53,720.22 350.45,717.25 355.4,715.7 C360.35,714.15 364.68,714.32 369.3,713.4 C373.92,712.48 379.48,710.97 383.1,710.2 C386.72,709.43 388.35,708.97 391,708.8 C393.65,708.63 395.7,708.38 399,709.2 C402.3,710.02 406.52,711.78 410.8,713.7 C415.08,715.62 420.08,718.55 424.7,720.7 C429.32,722.85 433.88,725.12 438.5,726.6 C443.12,728.08 447.78,728.52 452.4,729.6 C457.02,730.68 461.92,732.52 466.2,733.1 C470.48,733.68 473.8,733.62 478.1,733.1 C482.4,732.58 487.05,731.58 492,730 C496.95,728.42 502.85,725.38 507.8,723.6 C512.75,721.82 517.42,719.62 521.7,719.3 C525.98,718.98 528.88,720.92 533.5,721.7 C538.12,722.48 544.12,723.08 549.4,724 C554.68,724.92 559.93,726 565.2,727.2 C570.47,728.4 576.72,729.82 581,731.2 C585.28,732.58 587.73,734.12 590.9,735.5 C594.07,736.88 597.67,738.57 600,739.5 C602.33,740.43 600.78,740.28 604.9,741.1 C609.02,741.92 618.1,743.18 624.7,744.4 C631.3,745.62 639.55,747.3 644.5,748.4 C649.45,749.5 649.45,750.02 654.4,751 C659.35,751.98 667.6,753.52 674.2,754.3 C680.8,755.08 688.73,755.13 694,755.7 C699.27,756.27 702.18,757.27 705.8,757.7 C709.42,758.13 711.73,758.43 715.7,758.3 C719.67,758.17 725.32,757.47 729.6,756.9 C733.88,756.33 737.45,755.98 741.4,754.9 C745.35,753.82 749,751.92 753.3,750.4 C757.6,748.88 763.23,746.9 767.2,745.8 C771.17,744.7 772.82,745.18 777.1,743.8 C781.38,742.42 787.3,739.87 792.9,737.5 C798.5,735.13 804.77,731.75 810.7,729.6 C816.63,727.45 823.22,725.43 828.5,724.6 C833.78,723.77 838.43,724.5 842.4,724.6 C846.37,724.7 849.67,725.37 852.3,725.2 C854.93,725.03 855.57,723.6 858.2,723.6 C860.83,723.6 864.13,724.2 868.1,725.2 C872.07,726.2 878.35,728.15 882,729.6 C885.65,731.05 887.02,732.25 890,733.9 C892.98,735.55 896.6,737.58 899.9,739.5 C903.2,741.42 906.5,744.25 909.8,745.4 C913.1,746.55 915.42,746.23 919.7,746.4 C923.98,746.57 930.55,746.07 935.5,746.4 C940.45,746.73 943.78,746.98 949.4,748.4 C955.02,749.82 963.93,753.58 969.2,754.9 C974.47,756.22 977.05,755.97 981,756.3 C984.95,756.63 988.28,756.57 992.9,756.9 C997.52,757.23 1003.42,757.73 1008.7,758.3 C1013.98,758.87 1020.3,760.3 1024.6,760.3 C1028.9,760.3 1029.88,760.18 1034.5,758.3 C1039.12,756.42 1046.7,751.55 1052.3,749 C1057.9,746.45 1062.17,745.25 1068.1,743 C1074.03,740.75 1081.97,737.73 1087.9,735.5 C1093.83,733.27 1098.75,731.32 1103.7,729.6 C1108.65,727.88 1111.98,726.2 1117.6,725.2 C1123.22,724.2 1132.12,724.12 1137.4,723.6 C1142.68,723.08 1145.25,722.3 1149.3,722.1 C1153.35,721.9 1158.18,722.35 1161.7,722.4 C1165.22,722.45 1167.48,722.12 1170.4,722.4 C1173.32,722.68 1176.38,723.7 1179.2,724.1 C1182.02,724.5 1184.38,724.22 1187.3,724.8 C1190.22,725.38 1193.58,726.55 1196.7,727.6 C1199.82,728.65 1203.67,730.47 1206,731.1 C1208.33,731.73 1208.75,730.9 1210.7,731.4 C1212.65,731.9 1215.18,733.07 1217.7,734.1 C1220.22,735.13 1223.12,736.68 1225.8,737.6 C1228.48,738.52 1232.47,739.27 1233.8,739.6" fill="none" stroke="#ffe631" stroke-width="1.3"/>
<polyline points="10.5,751.7 16.5,761.6 22.5,757.7 28.5,766.2 34.5,766.2 40.5,769.6 46.5,769.2 52.5,756.9 57.5,754.3 63.5,760.3 69.5,771.1 75.5,766.8 81.5,759.3 87.5,761.6 93.5,763.6 99.5,764.2 104.5,766.8 110.5,774.1 116.5,777.1 122.5,784.6 128.5,767.6 134.5,765.8 140.5,776.7 146.5,778.1 152.5,767.6 157.5,758.3 163.5,749.8 169.5,752.9 175.5,745.8 181.5,741.9 187.5,756.3 193.5,759.7 199.5,748.4 205.5,745.8 210.5,751.7 216.5,743 222.5,740.5 228.5,728 234.5,741.1 240.5,744.4 246.5,745.8 252.5,746.4 258.5,735.9 263.5,743 269.5,744.4 275.5,734.5 281.5,718.1 287.5,720.7 293.5,724.6 299.5,723.2 305.5,731.6 310.5,728.6 316.5,726 322.5,703.5 328.5,709.8 334.5,709.2 340.5,703.5 346.5,700.3 352.5,706.8 358.5,712.2 363.5,709.4 369.5,705.8 375.5,703.9 381.5,699.9 387.5,705.8 393.5,725.2 399.5,726.2 405.5,735.9 411.5,743 416.5,748.4 422.5,742.4 428.5,748 434.5,747.4 440.5,741.1 446.5,726 452.5,711.4 458.5,729.2 464.5,724.6 469.5,718.7 475.5,725.2 481.5,717.3 487.5,717.3 493.5,717.7 499.5,713.7 505.5,706.8 511.5,715.7 516.5,720.1 522.5,719.7 528.5,737.9 534.5,741.5 540.5,737.5 546.5,738.5 552.5,736.5 558.5,739.9 564.5,732 569.5,732.5 575.5,737.1 581.5,737.1 587.5,752.3 593.5,750.4 599.5,751.7 605.5,746.4 611.5,749.4 617.5,755.3 622.5,747 628.5,754.3 634.5,753.3 640.5,757.3 646.5,753.3 652.5,758.9 658.5,744.4 664.5,759.7 669.5,766.8 675.5,763.2 681.5,758.9 687.5,756.9 693.5,755.3 699.5,757.7 705.5,769.2 711.5,763.6 717.5,750.4 722.5,749.4 728.5,749 734.5,741.1 740.5,737.9 746.5,736.5 752.5,737.5 758.5,728.6 764.5,730.6 770.5,733.1 775.5,743.4 781.5,733.9 787.5,728.6 793.5,728 799.5,717.7 805.5,707.4 811.5,710.8 817.5,715.3 823.5,715.3 828.5,710.2 834.5,733.1 840.5,732.5 846.5,737.1 852.5,739.5 858.5,724 864.5,741.1 870.5,753.7 875.5,745.8 881.5,746.4 887.5,747.8 893.5,756.3 899.5,756.3 905.5,765.2 911.5,755.7 917.5,740.5 923.5,738.5 928.5,739.1 934.5,732.5 940.5,733.5 946.5,759.3 952.5,762.8 958.5,775.1 964.5,777.1 970.5,778.1 976.5,762.2 981.5,766.2 987.5,763.6 993.5,764.2 999.5,749.4 1005.5,750.4 1011.5,743 1017.5,749.8 1023.5,743.4 1028.5,754.3 1034.5,742.4 1040.5,740.5 1046.5,732.5 1052.5,731.2 1058.5,734.5 1064.5,735.9 1070.5,728.6 1076.5,731.6 1081.5,726 1087.5,720.7 1093.5,709.4 1099.5,713.7 1105.5,713.7 1111.5,716.1 1117.5,718.7 1123.5,727.6 1129.5,731.6 1134.5,723.6 1140.5,721.3 1146.5,720.7 1152.5,738.5 1158.5,730.6 1164.5,727.6 1170.5,715.3 1176.5,721.7 1182.5,725.2 1187.5,720.7 1193.5,744.8 1199.5,751.8 1205.5,756.7 1211.5,739.9 1217.5,753 1223.5,758.8 1229.5,752.4 1234.5,754.2" fill="none" stroke="#7e57c2" stroke-width="1.3" stroke-linejoin="round"/>
</g>
<text x="17.9" y="708.8" font-size="11" fill="#434651" textLength="15.8" lengthAdjust="spacingAndGlyphs">RSI</text>
<text x="41.2" y="708.8" font-size="11.4" fill="#7e57c2" textLength="29.1" lengthAdjust="spacingAndGlyphs">41.53</text>
<text x="78.3" y="708.8" font-size="11.4" fill="#ffeb3b" textLength="28.7" lengthAdjust="spacingAndGlyphs">49.57</text>
<text x="119.4" y="708.8" font-size="10.5" fill="#434651" text-anchor="middle">&#216;</text>
<text x="134.2" y="708.8" font-size="10.5" fill="#434651" text-anchor="middle">&#216;</text>
<text x="150.3" y="708.8" font-size="10.5" fill="#434651" text-anchor="middle">&#216;</text>
<text x="165.4" y="708.8" font-size="10.5" fill="#434651" text-anchor="middle">&#216;</text>
<line x1="11" y1="794.5" x2="1505" y2="794.5" stroke="#50535e" stroke-width="1"/>
<svg x="11" y="795" width="1431" height="26" overflow="hidden">
<text x="-5.35" y="16.9" font-size="11.6" fill="#50535e" textLength="19.5" lengthAdjust="spacingAndGlyphs">Sep</text>
<text x="120" y="16.9" font-size="11.6" fill="#50535e" textLength="17.8" lengthAdjust="spacingAndGlyphs">Oct</text>
<text x="248.5" y="16.9" font-size="11.6" fill="#50535e" textLength="19.8" lengthAdjust="spacingAndGlyphs">Nov</text>
<text x="377.55" y="16.9" font-size="11.6" fill="#50535e" textLength="19.5" lengthAdjust="spacingAndGlyphs">Dec</text>
<text x="497.75" y="16.9" font-size="11.6" fill="#50535e" font-weight="bold" textLength="27.7" lengthAdjust="spacingAndGlyphs">2024</text>
<text x="637.55" y="16.9" font-size="11.6" fill="#50535e" textLength="18.5" lengthAdjust="spacingAndGlyphs">Feb</text>
<text x="760.15" y="16.9" font-size="11.6" fill="#50535e" textLength="19.5" lengthAdjust="spacingAndGlyphs">Mar</text>
<text x="884.9" y="16.9" font-size="11.6" fill="#50535e" textLength="18.4" lengthAdjust="spacingAndGlyphs">Apr</text>
<text x="1012.75" y="16.9" font-size="11.6" fill="#50535e" textLength="21.3" lengthAdjust="spacingAndGlyphs">May</text>
<text x="1149.5" y="16.9" font-size="11.6" fill="#50535e" textLength="18" lengthAdjust="spacingAndGlyphs">Jun</text>
<text x="1269.5" y="16.9" font-size="11.6" fill="#50535e" textLength="15" lengthAdjust="spacingAndGlyphs">Jul</text>
<text x="1401.8" y="16.9" font-size="11.6" fill="#50535e" textLength="20" lengthAdjust="spacingAndGlyphs">Aug</text>
</svg>
<line x1="1442.5" y1="28" x2="1442.5" y2="822" stroke="#363a45" stroke-width="1"/>
<rect x="1446" y="31.3" width="55.8" height="25.6" rx="4" fill="#fff" stroke="#e6e8ef" stroke-width="1"/>
<text x="1455.4" y="48.7" font-size="11.4" fill="#131722" textLength="20.3" lengthAdjust="spacingAndGlyphs">USD</text>
<text x="1450.7" y="78.85" font-size="11.6" fill="#5d606b" textLength="41.2" lengthAdjust="spacingAndGlyphs">1.12000</text>
<text x="1450.7" y="117.85" font-size="11.6" fill="#5d606b" textLength="41.2" lengthAdjust="spacingAndGlyphs">1.11500</text>
<text x="1450.7" y="156.85" font-size="11.6" fill="#5d606b" textLength="41.2" lengthAdjust="spacingAndGlyphs">1.11000</text>
<text x="1450.7" y="195.85" font-size="11.6" fill="#5d606b" textLength="41.2" lengthAdjust="spacingAndGlyphs">1.10500</text>
<text x="1450.7" y="234.85" font-size="11.6" fill="#5d606b" textLength="41.2" lengthAdjust="spacingAndGlyphs">1.10000</text>
<text x="1450.7" y="273.85" font-size="11.6" fill="#5d606b" textLength="41.2" lengthAdjust="spacingAndGlyphs">1.09500</text>
<text x="1450.7" y="312.85" font-size="11.6" fill="#5d606b" textLength="41.2" lengthAdjust="spacingAndGlyphs">1.09000</text>
<text x="1450.7" y="429.85" font-size="11.6" fill="#5d606b" textLength="41.2" lengthAdjust="spacingAndGlyphs">1.07500</text>
<text x="1450.7" y="507.85" font-size="11.6" fill="#5d606b" textLength="41.2" lengthAdjust="spacingAndGlyphs">1.06500</text>
<text x="1450.7" y="585.85" font-size="11.6" fill="#5d606b" textLength="41.2" lengthAdjust="spacingAndGlyphs">1.05500</text>
<text x="1450.7" y="624.85" font-size="11.6" fill="#5d606b" textLength="41.2" lengthAdjust="spacingAndGlyphs">1.05000</text>
<text x="1450.7" y="663.85" font-size="11.6" fill="#5d606b" textLength="41.2" lengthAdjust="spacingAndGlyphs">1.04500</text>
<text x="1450.2" y="724.9" font-size="11.6" fill="#5d606b" textLength="29.1" lengthAdjust="spacingAndGlyphs">60.00</text>
<path d="M1442.3,114.2 H1495.9 a2,2 0 0 1 2,2 V128.9 a2,2 0 0 1 -2,2 H1442.3 Z" fill="#000"/>
<text x="1450.6" y="126.8" font-size="11.7" fill="#fff" font-weight="bold" textLength="41.4" lengthAdjust="spacingAndGlyphs">1.11395</text>
<path d="M1442.3,209.5 H1495.9 a2,2 0 0 1 2,2 V223.6 a2,2 0 0 1 -2,2 H1442.3 Z" fill="#000"/>
<text x="1450.6" y="221.8" font-size="11.7" fill="#fff" font-weight="bold" textLength="41.4" lengthAdjust="spacingAndGlyphs">1.10171</text>
<path d="M1442.3,336 H1495.9 a2,2 0 0 1 2,2 V350.8 a2,2 0 0 1 -2,2 H1442.3 Z" fill="#000"/>
<text x="1450.6" y="348.65" font-size="11.7" fill="#fff" font-weight="bold" textLength="41.4" lengthAdjust="spacingAndGlyphs">1.08544</text>
<path d="M1442.3,370.1 H1495.9 a2,2 0 0 1 2,2 V384.5 a2,2 0 0 1 -2,2 H1442.3 Z" fill="#000"/>
<text x="1450.6" y="382.55" font-size="11.7" fill="#fff" font-weight="bold" textLength="41.4" lengthAdjust="spacingAndGlyphs">1.07949</text>
<path d="M1442.3,387.5 H1495.9 a2,2 0 0 1 2,2 V402.1 a2,2 0 0 1 -2,2 H1442.3 Z" fill="#f23645"/>
<text x="1450.6" y="400.05" font-size="11.7" fill="#fff" font-weight="bold" textLength="41.4" lengthAdjust="spacingAndGlyphs">1.07880</text>
<path d="M1442.3,404.1 H1495.9 a2,2 0 0 1 2,2 V418.7 a2,2 0 0 1 -2,2 H1442.3 Z" fill="#2a2afa"/>
<text x="1450.6" y="416.65" font-size="11.7" fill="#fff" font-weight="bold" textLength="41.4" lengthAdjust="spacingAndGlyphs">1.07672</text>
<path d="M1442.3,472.3 H1495.9 a2,2 0 0 1 2,2 V486.7 a2,2 0 0 1 -2,2 H1442.3 Z" fill="#000"/>
<text x="1450.6" y="484.75" font-size="11.7" fill="#fff" font-weight="bold" textLength="41.4" lengthAdjust="spacingAndGlyphs">1.06953</text>
<path d="M1442.3,507.7 H1495.9 a2,2 0 0 1 2,2 V521.7 a2,2 0 0 1 -2,2 H1442.3 Z" fill="#000"/>
<text x="1450.6" y="519.95" font-size="11.7" fill="#fff" font-weight="bold" textLength="41.4" lengthAdjust="spacingAndGlyphs">1.06353</text>
<path d="M1442.3,534.3 H1495.9 a2,2 0 0 1 2,2 V548.5 a2,2 0 0 1 -2,2 H1442.3 Z" fill="#000"/>
<text x="1450.6" y="546.65" font-size="11.7" fill="#fff" font-weight="bold" textLength="41.4" lengthAdjust="spacingAndGlyphs">1.06012</text>
<path d="M1442.3,441.5 H1499.7 a2,2 0 0 1 2,2 V469.3 a2,2 0 0 1 -2,2 H1442.3 Z" fill="#ef5350"/>
<text x="1450.7" y="453.6" font-size="11.7" fill="#fff" font-weight="bold" textLength="41.1" lengthAdjust="spacingAndGlyphs">1.07195</text>
<text x="1450.7" y="467.6" font-size="11.7" fill="#fbe3e3" font-weight="bold" textLength="45.1" lengthAdjust="spacingAndGlyphs">11:38:41</text>
<path d="M1392.2,387.5 H1441 V404.1 H1392.2 a2,2 0 0 1 -2,-2 V389.5 a2,2 0 0 1 2,-2 Z" fill="#f23645"/>
<text x="1394.6" y="400.05" font-size="11.7" fill="#fff" font-weight="bold" textLength="41.6" lengthAdjust="spacingAndGlyphs">SMA:MA</text>
<path d="M1392.2,404.1 H1441 V420.7 H1392.2 a2,2 0 0 1 -2,-2 V406.1 a2,2 0 0 1 2,-2 Z" fill="#2a2afa"/>
<text x="1394.6" y="416.65" font-size="11.7" fill="#fff" font-weight="bold" textLength="41.6" lengthAdjust="spacingAndGlyphs">SMA:MA</text>
<path d="M1391.2,441.5 H1441 V457.6 H1391.2 a2,2 0 0 1 -2,-2 V443.5 a2,2 0 0 1 2,-2 Z" fill="#ef5350"/>
<text x="1394" y="453.8" font-size="11.7" fill="#fff" font-weight="bold" textLength="42.2" lengthAdjust="spacingAndGlyphs">EURUSD</text>
<path d="M1363.1,729.3 H1441 V745.6 H1363.1 a2,2 0 0 1 -2,-2 V731.3 a2,2 0 0 1 2,-2 Z" fill="#ffeb3b"/>
<text x="1365.7" y="741.7" font-size="11.7" fill="#131722" textLength="70.5" lengthAdjust="spacingAndGlyphs">RSI-based MA</text>
<path d="M1417.1,746.5 H1441 V762.7 H1417.1 a2,2 0 0 1 -2,-2 V748.5 a2,2 0 0 1 2,-2 Z" fill="#7e57c2"/>
<text x="1420" y="758.85" font-size="11.7" fill="#fff" font-weight="bold" textLength="16.2" lengthAdjust="spacingAndGlyphs">RSI</text>
<path d="M1442.3,729.3 H1482.9 a2,2 0 0 1 2,2 V743.6 a2,2 0 0 1 -2,2 H1442.3 Z" fill="#ffeb3b"/>
<text x="1450.6" y="741.7" font-size="11.7" fill="#131722" textLength="29.6" lengthAdjust="spacingAndGlyphs">49.57</text>
<path d="M1442.3,746.5 H1482.9 a2,2 0 0 1 2,2 V760.7 a2,2 0 0 1 -2,2 H1442.3 Z" fill="#7e57c2"/>
<text x="1450.6" y="758.85" font-size="11.7" fill="#fff" font-weight="bold" textLength="29.6" lengthAdjust="spacingAndGlyphs">41.53</text>
<g fill="#131722">
<path d="M9.9,834 H18.1 V843.9 H14.1 V837.6 H9.9 Z"/>
<circle cx="21.2" cy="836.2" r="1.9"/>
<path d="M23.8,834 H29.7 L26.1,843.9 H21 Z"/>
</g>
<text x="33.3" y="843.9" font-size="12.6" fill="#2a2e39" textLength="70" lengthAdjust="spacingAndGlyphs">TradingView</text>
<defs><filter id="wsh" x="-10%" y="-10%" width="130%" height="140%"><feComponentTransfer in="SourceAlpha" result="sa"><feFuncA type="linear" slope="20"/></feComponentTransfer><feGaussianBlur in="sa" stdDeviation="1.0" result="b"/><feOffset in="b" dx="1.7" dy="1.8" result="o"/><feComposite in="o" in2="sa" operator="out" result="os"/><feFlood flood-color="#333" flood-opacity="0.6"/><feComposite in2="os" operator="in" result="sh"/><feMerge><feMergeNode in="sh"/><feMergeNode in="SourceGraphic"/></feMerge></filter><filter id="zsh" x="-10%" y="-10%" width="130%" height="140%"><feDropShadow dx="1" dy="1.2" stdDeviation="0.6" flood-color="#222" flood-opacity="0.55"/></filter></defs>
<g filter="url(#wsh)" fill="#fff" fill-opacity="0.9" fill-rule="evenodd">
<path d="M1280,780 L1290.5,780 L1293.5,765 L1283,765 Z"/>
<path d="M1275,791.5 L1286.5,791.5 L1288.5,781.5 L1277,781.5 Z"/>
<path d="M1268,819 L1278,819 L1291,797 L1283,797 Z"/>
<path d="M1297,765 L1336,765 L1334.2,774 L1295.2,774 Z"/>
<path d="M1288,812 L1325,812 L1332.6,774 L1295.6,774 Z M1299.5,793 L1320,793 L1321.8,784 L1301.3,784 Z M1296,811 L1314,811 L1316.2,800 L1298.2,800 Z"/>
<path d="M1311,785 L1314,785 L1315.5,792 L1312.5,792 Z"/>
<path d="M1306.5,801 L1309.5,801 L1311,810 L1308,810 Z"/>
<path d="M1285,819 L1323,819 L1324.4,812 L1286.4,812 Z"/>
<path d="M1340,772.5 L1390,772.5 L1391.5,765 L1341.5,765 Z"/>
<path d="M1339.5,787 L1347,787 L1350,772 L1342.5,772 Z"/>
<path d="M1385.5,765 L1393,765 L1382,819 L1374.5,819 Z"/>
<path d="M1332,808 L1372.5,808 L1376.9,786 L1336.4,786 Z"/>
<path d="M1356,819 L1381,819 L1382.4,812 L1357.4,812 Z"/>
<path d="M1378.5,800 L1386,800 L1392.6,767 L1385.1,767 Z"/>
<path d="M1386,805 L1413,805 L1420.8,766 L1393.8,766 Z M1398.5,803 L1407.5,803 L1413.2,774.5 L1404.2,774.5 Z"/>
<path d="M1378,819 L1386,819 L1396,805 L1388,805 Z"/>
<path d="M1402,805 L1409,805 L1413,818 L1406,818 Z"/>
<path d="M1419,781 L1447,781 L1448.2,775 L1420.2,775 Z"/>
<path d="M1420,765 L1427,765 L1418.5,817 L1411.5,817 Z"/>
<path d="M1402,813 L1418,813 L1417,819 L1401,819 Z"/>
<path d="M1436,781 L1444,781 L1432,806 L1424,806 Z"/>
<path d="M1447,766 L1455,766 L1444,818 L1436,818 Z"/>
<path d="M1446,792 L1457,792 L1458.2,786 L1447.2,786 Z"/>
<path d="M1472,766 L1480,766 L1468,781 L1460,781 Z"/>
<path d="M1480,772.5 L1502,772.5 L1503.3,766 L1481.3,766 Z"/>
<path d="M1507,766 L1516,766 L1503,782 L1494,782 Z"/>
<path d="M1476,781 L1484,781 L1467,797 L1459,797 Z"/>
<path d="M1482,791.5 L1508,791.5 L1509.3,785 L1483.3,785 Z"/>
<path d="M1474,801.5 L1505,801.5 L1506.3,795 L1475.3,795 Z"/>
<path d="M1488,813 L1494.5,813 L1496.9,801 L1490.4,801 Z"/>
<path d="M1449,818 L1503,818 L1504.3,811.5 L1450.3,811.5 Z"/>
</g>
<g filter="url(#zsh)" transform="scale(1.12,1)">
<text x="1144.61" y="851.6" font-size="32" font-weight="bold" font-style="italic" fill="#a0a0fc" stroke="#a0a0fc" stroke-width="0.8">z</text>
<text x="1168.09" y="851.6" font-size="32" font-weight="bold" font-style="italic" fill="#a0a0fc" stroke="#a0a0fc" stroke-width="0.8">z</text>
<text x="1192.86" y="851.6" font-size="32" font-weight="bold" font-style="italic" fill="#a0a0fc" stroke="#a0a0fc" stroke-width="0.8">r</text>
<text x="1213.21" y="851.6" font-size="32" font-weight="bold" font-style="italic" fill="#a0a0fc" stroke="#a0a0fc" stroke-width="0.8">t</text>
<text x="1231.96" y="851.6" font-size="32" font-weight="bold" font-style="italic" fill="#a0a0fc" stroke="#a0a0fc" stroke-width="0.8">0</text>
<text x="1259.23" y="851.6" font-size="32" font-weight="bold" font-style="italic" fill="#a0a0fc" stroke="#a0a0fc" stroke-width="0.8">1</text>
<text x="1286.07" y="851.6" font-size="32" font-weight="bold" font-style="italic" fill="#a0a0fc" stroke="#a0a0fc" stroke-width="0.8">.</text>
<text x="1302.5" y="851.6" font-size="32" font-weight="bold" font-style="italic" fill="#a0a0fc" stroke="#a0a0fc" stroke-width="0.8">c</text>
<text x="1325.18" y="851.6" font-size="32" font-weight="bold" font-style="italic" fill="#a0a0fc" stroke="#a0a0fc" stroke-width="0.8">n</text>
</g>
</svg></body></html>
